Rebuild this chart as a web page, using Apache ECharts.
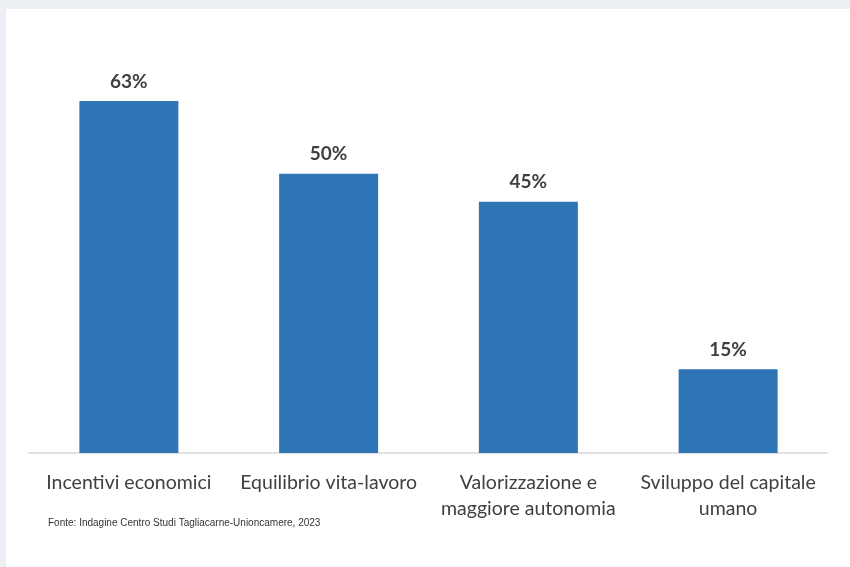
<!DOCTYPE html>
<html>
<head>
<meta charset="utf-8">
<script src="https://cdn.jsdelivr.net/npm/echarts@6/dist/echarts.min.js"></script>
<style>
  html, body { margin: 0; padding: 0; background: #ffffff; }
  #chart { width: 850px; height: 567px; }
</style>
</head>
<body>
<div id="chart"></div>
<script>
// dati
var categorie = ['Incentivi economici', 'Equilibrio vita-lavoro', 'Valorizzazione e\nmaggiore autonomia', 'Sviluppo del capitale\numano'];
var valori = [63, 50, 45, 15];
var fonte = 'Fonte: Indagine Centro Studi Tagliacarne-Unioncamere, 2023';

var myChart = echarts.init(document.getElementById('chart'));

var option = {
    backgroundColor: '#ffffff',
    animation: false,
    graphic: [
        { type: 'rect', left: 0, top: 0, shape: { width: 850, height: 9 }, style: { fill: '#eceff4' }, silent: true },
        { type: 'rect', left: 0, top: 0, shape: { width: 6, height: 567 }, style: { fill: '#eceff4' }, silent: true },
        {
            type: 'text', left: 48, top: 518,
            style: { text: fonte, font: '10px "Liberation Sans", Arial, sans-serif', fill: '#333333' }
        }
    ],
    grid: {
        left: 29,
        right: 22,
        top: 62,
        bottom: 114
    },
    xAxis: {
        type: 'category',
        data: categorie,
        axisLine: { lineStyle: { color: '#d9d9d9', width: 1.5 } },
        axisTick: { show: false },
        axisLabel: {
            interval: 0,
            margin: 17,
            color: '#404040',
            fontFamily: 'Lato, "Open Sans", sans-serif',
            fontSize: 19.5,
            lineHeight: 26
        }
    },
    yAxis: {
        type: 'value',
        min: 0,
        max: 70,
        show: false,
        splitLine: { show: false }
    },
    series: [{
        type: 'bar',
        data: valori,
        barWidth: 99,
        itemStyle: { color: '#2e75b6' },
        label: {
            show: true,
            position: 'top',
            distance: 10,
            formatter: '{c}%',
            color: '#404040',
            fontWeight: 'bold',
            fontFamily: 'Lato, "Open Sans", sans-serif',
            fontSize: 19
        }
    }]
};
myChart.setOption(option);
</script>
</body>
</html>
